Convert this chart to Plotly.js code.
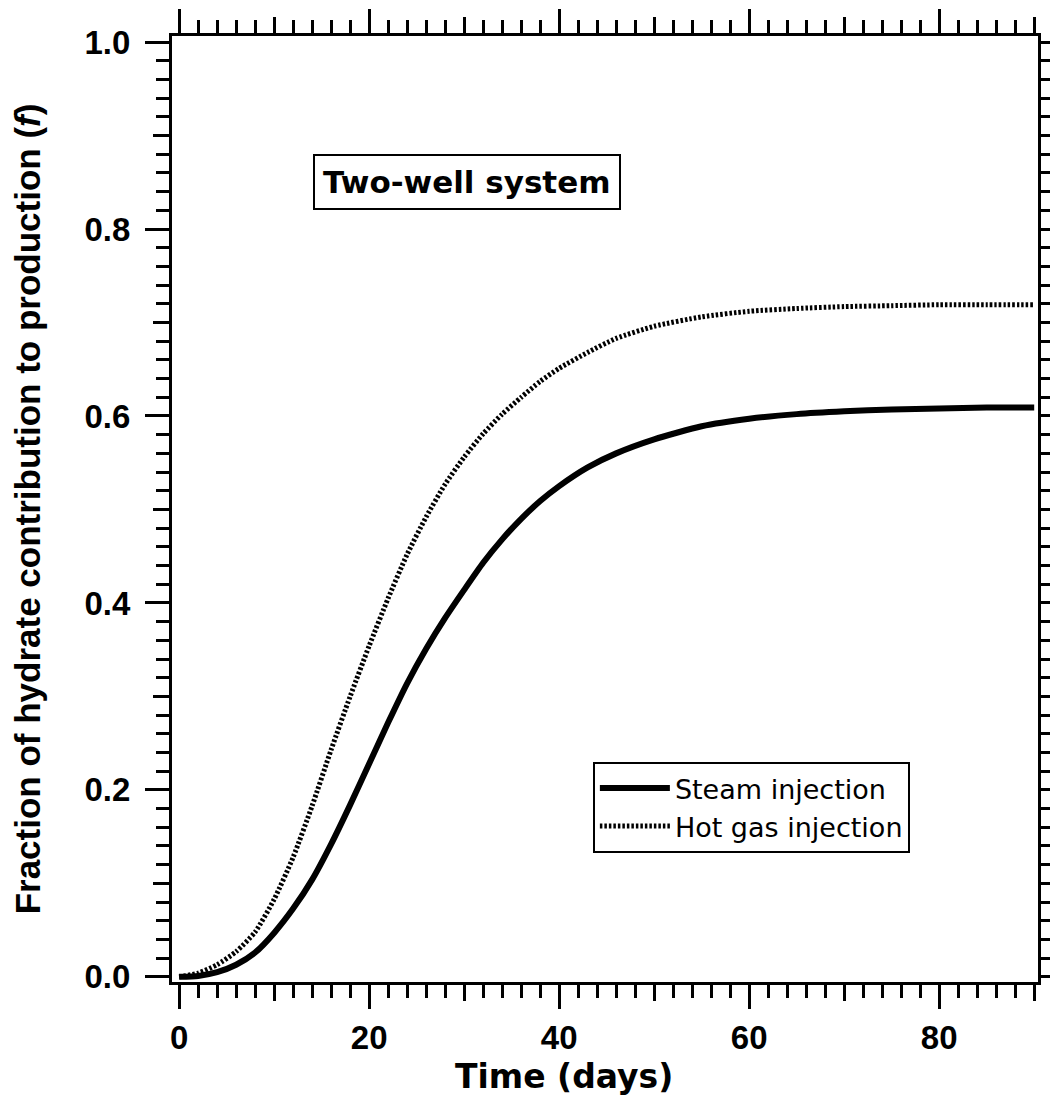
<!DOCTYPE html>
<html>
<head>
<meta charset="utf-8">
<script src="https://cdn.plot.ly/plotly-3.0.1.min.js"></script>
<style>html,body{margin:0;padding:0;background:#fff;}#chart{width:1050px;height:1109px;}</style>
</head>
<body>
<div id="chart"></div>
<script>
// Time in days
const days = [0,2,4,6,8,10,12,14,16,18,20,22,24,26,28,30,32,34,36,38,40,43,46,50,55,60,65,70,75,80,85,90];
// Fraction of hydrate contribution to production (f)
const steamInjection = [0,0.001,0.005,0.013,0.026,0.047,0.073,0.104,0.142,0.184,0.228,0.272,0.314,0.351,0.384,0.414,0.443,0.468,0.490,0.509,0.525,0.545,0.560,0.575,0.589,0.597,0.602,0.605,0.607,0.608,0.609,0.609];
const hotGasInjection = [0,0.004,0.013,0.027,0.048,0.083,0.128,0.183,0.243,0.300,0.354,0.405,0.452,0.492,0.527,0.556,0.581,0.602,0.620,0.637,0.651,0.668,0.683,0.696,0.706,0.712,0.715,0.717,0.718,0.719,0.719,0.719];
const seriesNames = ["Steam injection","Hot gas injection"];
const xTickVals = [0,20,40,60,80];
const yTickVals = [0.0,0.2,0.4,0.6,0.8,1.0];
const yTickText = ["0.0","0.2","0.4","0.6","0.8","1.0"];
const xTitle = "Time (days)";
const yTitle = "Fraction of hydrate contribution to production (<i>f</i>)";
const boxLabel = "Two-well system";

const tickFont = {family:"Liberation Sans", size:33, color:"#000", weight:"bold"};

const traces = [
  {x:days, y:steamInjection, name:seriesNames[0], type:"scatter", mode:"lines",
   line:{color:"#000", width:6, shape:"spline", smoothing:0.6}},
  {x:days, y:hotGasInjection, name:seriesNames[1], type:"scatter", mode:"lines",
   line:{color:"#000", width:5, dash:"2.5px,2px", shape:"spline", smoothing:0.6}},
  // invisible trace to host the medium-tick overlay axes
  {x:[0], y:[0], xaxis:"x2", yaxis:"y2", mode:"markers", marker:{opacity:0}, showlegend:false, hoverinfo:"skip"}
];

const layout = {
  width:1050, height:1109,
  paper_bgcolor:"#fff", plot_bgcolor:"#fff",
  margin:{l:172, r:12, t:36, b:127},
  showlegend:true,
  legend:{x:0.486, y:0.2326, xanchor:"left", yanchor:"top",
    bordercolor:"#000", borderwidth:2, bgcolor:"#fff",
    font:{family:"DejaVu Sans", size:27, color:"#000"},
    itemwidth:70, tracegroupgap:0},
  xaxis:{range:[-0.75,90.4], showgrid:false, zeroline:false,
    showline:true, linecolor:"#000", linewidth:3, mirror:"ticks",
    ticks:"outside", tickvals:xTickVals, ticklen:24, tickwidth:3, tickcolor:"#000",
    tickfont:tickFont,
    minor:{dtick:2, tick0:0, ticks:"outside", ticklen:13, tickwidth:3, tickcolor:"#000", showgrid:false}},
  yaxis:{range:[-0.0055,1.0065], showgrid:false, zeroline:false,
    showline:true, linecolor:"#000", linewidth:3, mirror:"ticks",
    ticks:"outside", tickvals:yTickVals, ticktext:yTickText, ticklen:24, tickwidth:3, tickcolor:"#000",
    tickfont:tickFont, ticklabelstandoff:8,
    minor:{dtick:0.02, tick0:0, ticks:"outside", ticklen:13, tickwidth:3, tickcolor:"#000", showgrid:false},
    title:{text:yTitle, font:{family:"Liberation Sans", size:35, color:"#000", weight:"bold"}, standoff:34}},
  xaxis2:{overlaying:"x", matches:"x", side:"bottom", showgrid:false, zeroline:false,
    showline:false, mirror:"ticks", ticks:"outside", dtick:10, tick0:0, ticklen:18, tickwidth:3, tickcolor:"#000",
    showticklabels:false},
  yaxis2:{overlaying:"y", matches:"y", side:"left", showgrid:false, zeroline:false,
    showline:false, mirror:"ticks", ticks:"outside", dtick:0.1, tick0:0, ticklen:18, tickwidth:3, tickcolor:"#000",
    showticklabels:false},
  annotations:[
    {text:boxLabel, xref:"paper", yref:"paper", x:0.341, y:0.8455, xanchor:"center", yanchor:"middle",
     showarrow:false, font:{family:"DejaVu Sans", size:31, color:"#000", weight:"bold"},
     bordercolor:"#000", borderwidth:2, borderpad:8, bgcolor:"#fff"},
    {text:xTitle, xref:"x", yref:"paper", x:40.5, y:-0.0995, xanchor:"center", yanchor:"middle",
     showarrow:false, font:{family:"DejaVu Sans", size:33, color:"#000", weight:"bold"}}
  ]
};

Plotly.newPlot("chart", traces, layout, {displayModeBar:false, staticPlot:true});
</script>
</body>
</html>
